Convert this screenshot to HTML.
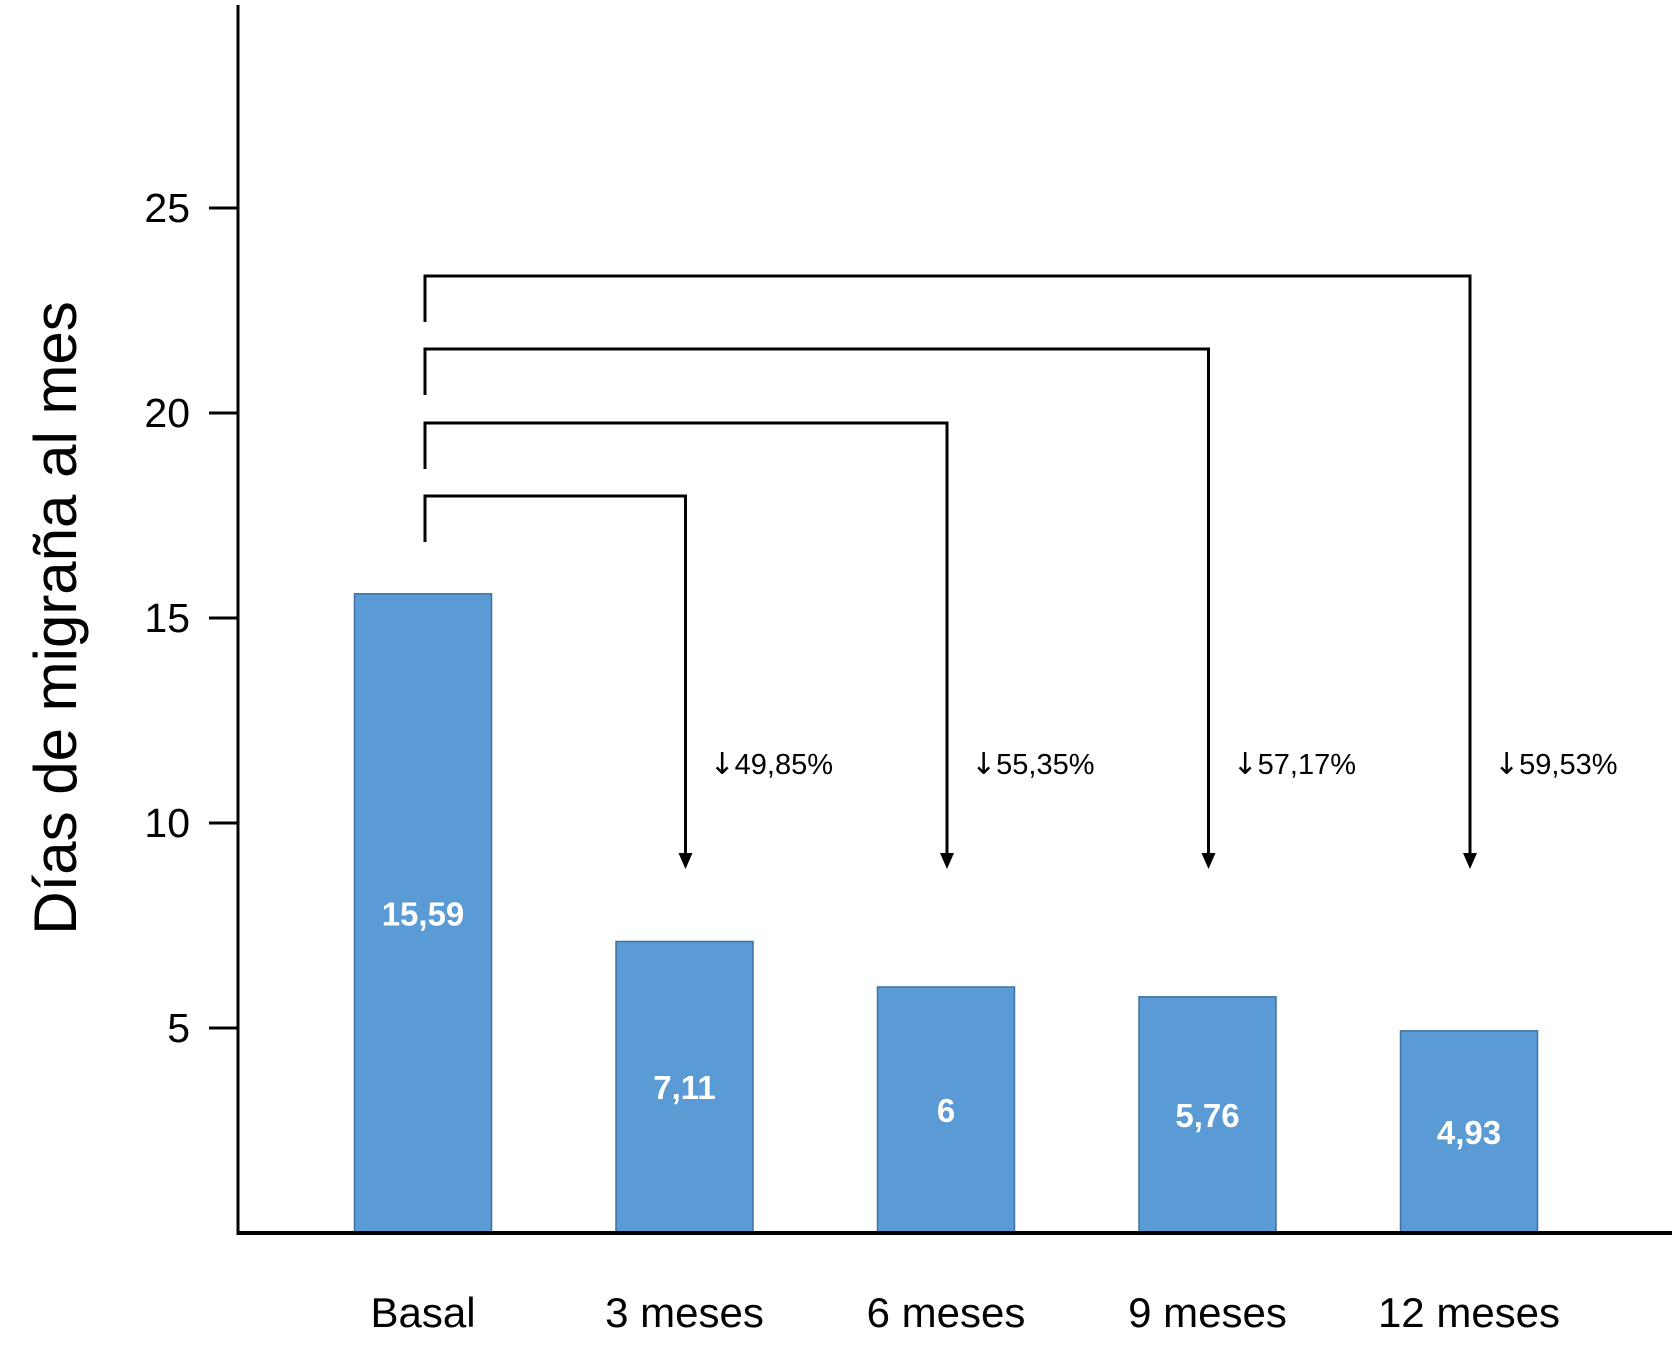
<!DOCTYPE html>
<html><head><meta charset="utf-8"><style>
html,body{margin:0;padding:0;background:#fff;}
svg{display:block;font-family:"Liberation Sans",sans-serif;}
</style></head><body>
<svg id="chart" width="1675" height="1346" viewBox="0 0 1675 1346" xmlns="http://www.w3.org/2000/svg"></svg>
<script>
const categories = ["Basal","3 meses","6 meses","9 meses","12 meses"];
const values = [15.59,7.11,6,5.76,4.93];
const valueLabels = ["15,59","7,11","6","5,76","4,93"];
const reductions = ["49,85%","55,35%","57,17%","59,53%"];
const yTicks = [5,10,15,20,25];

const NS="http://www.w3.org/2000/svg";
const svg=document.getElementById('chart');
const x0=238, base=1233, unit=41.0, x1=1672;
const y=v=>base-v*unit;
const xc=i=>423+i*261.5;
const bw=137;
function el(tag,attrs,parent){const e=document.createElementNS(NS,tag);for(const k in attrs)e.setAttribute(k,attrs[k]);(parent||svg).appendChild(e);return e;}

categories.forEach((c,i)=>{
  const b=el('rect',{x:xc(i)-bw/2,y:y(values[i]),width:bw,height:base-y(values[i]),fill:'#5b9bd5',stroke:'#41719c','stroke-width':1.5});
  
  
  const t=el('text',{x:xc(i),y:(y(values[i])+base)/2+12,'text-anchor':'middle',fill:'#fff','font-size':33,'font-weight':'bold'});
  t.textContent=valueLabels[i];
  
  
  const l=el('text',{x:xc(i),y:1327,'text-anchor':'middle',fill:'#000','font-size':42});
  l.textContent=c;
  
  
});

const ya=el('line',{x1:x0,y1:5,x2:x0,y2:base+2,stroke:'#000','stroke-width':3});


const xa=el('line',{x1:x0-1,y1:base,x2:x1,y2:base,stroke:'#000','stroke-width':4});


yTicks.forEach(v=>{
  const tk=el('line',{x1:209,y1:y(v),x2:x0,y2:y(v),stroke:'#000','stroke-width':3});
  
  
  const t=el('text',{x:190,y:y(v)+14,'text-anchor':'end','font-size':41,fill:'#000'});
  t.textContent=v;
  
  
});
const yt=el('text',{x:0,y:0,'text-anchor':'middle','font-size':60,fill:'#000',transform:'translate(76,618) rotate(-90)'});
yt.textContent='Días de migraña al mes';



const bY=[496,423,349,276];
const lx=425, tipY=869;
reductions.forEach((r,k)=>{
  const i=k+1, rx=xc(i)+1;
  const p=el('path',{d:`M${lx},${bY[k]+46} V${bY[k]} H${rx} V${tipY-14}`,fill:'none',stroke:'#000','stroke-width':3});
  
  
  const a=el('path',{d:`M${rx-7},${tipY-16} L${rx+7},${tipY-16} L${rx},${tipY} Z`,fill:'#000'});
  
  
  const t=el('text',{x:rx+24,y:774,'font-size':29,fill:'#000'});
  const ar=el('tspan',{'font-family':'"DejaVu Sans",sans-serif','font-size':30},t);
  ar.textContent='↓';
  const tx=el('tspan',{},t);
  tx.textContent=r;
  
  
});
</script>
</body></html>
